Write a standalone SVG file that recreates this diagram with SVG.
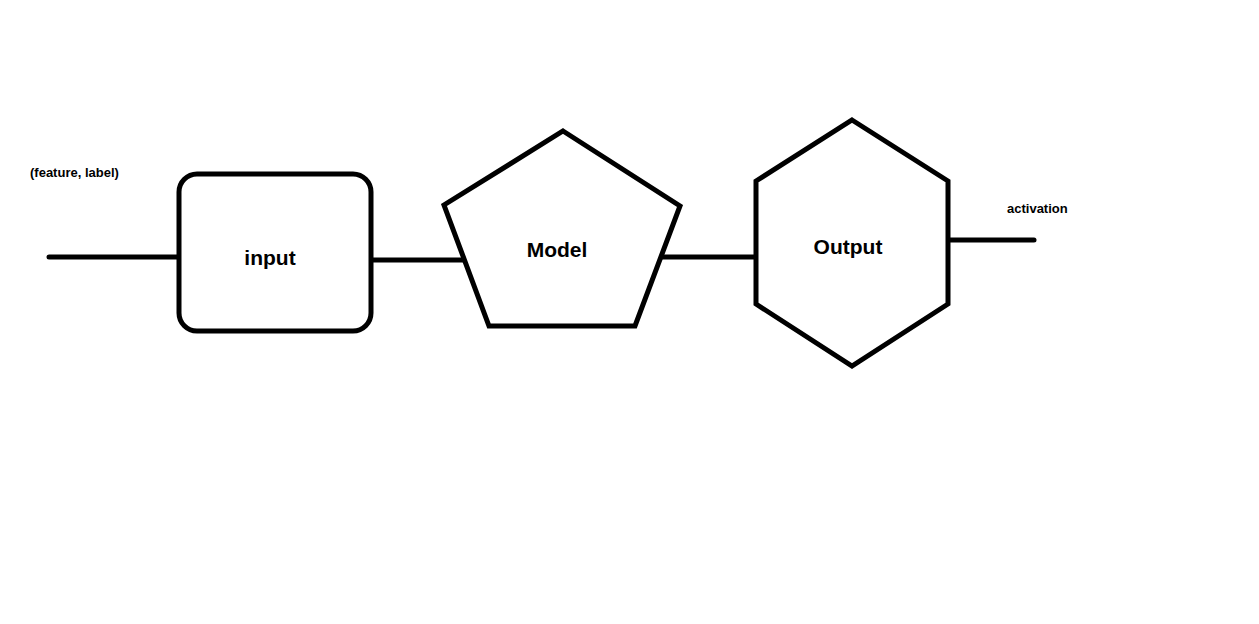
<svg xmlns="http://www.w3.org/2000/svg" width="1259" height="624" viewBox="0 0 1259 624">
<style>
.s{fill:#fff;stroke:#000;stroke-width:5;stroke-linejoin:miter}
.c{stroke:#000;stroke-width:5;stroke-linecap:round;fill:none}
.t{font-family:"Liberation Sans",Arial,sans-serif;font-weight:bold;fill:#000}
.big{font-size:21px;text-anchor:middle}
.small{font-size:13px}
</style>
<rect width="1259" height="624" fill="#fff"/>
<g id="connectors">
<line class="c" x1="49" y1="257" x2="183" y2="257"/>
<line class="c" x1="371" y1="260" x2="466" y2="260"/>
<line class="c" x1="660" y1="257" x2="758" y2="257"/>
<line class="c" x1="950" y1="240" x2="1034" y2="240"/>
</g>
<g id="node-input">
<rect class="s" x="179" y="174" width="192" height="157" rx="18"/>
<text class="t big" x="270" y="265">input</text>
</g>
<g id="node-model">
<polygon class="s" points="563,131 680,206 635,326 489,326 444,205"/>
<text class="t big" x="557" y="257">Model</text>
</g>
<g id="node-output">
<polygon class="s" points="852,120 948,181 948,304 852,366 756,304 756,181"/>
<text class="t big" x="848" y="254">Output</text>
</g>
<text id="label-feature" class="t small" x="30" y="177">(feature, label)</text>
<text id="label-activation" class="t small" x="1007" y="213">activation</text>
</svg>
